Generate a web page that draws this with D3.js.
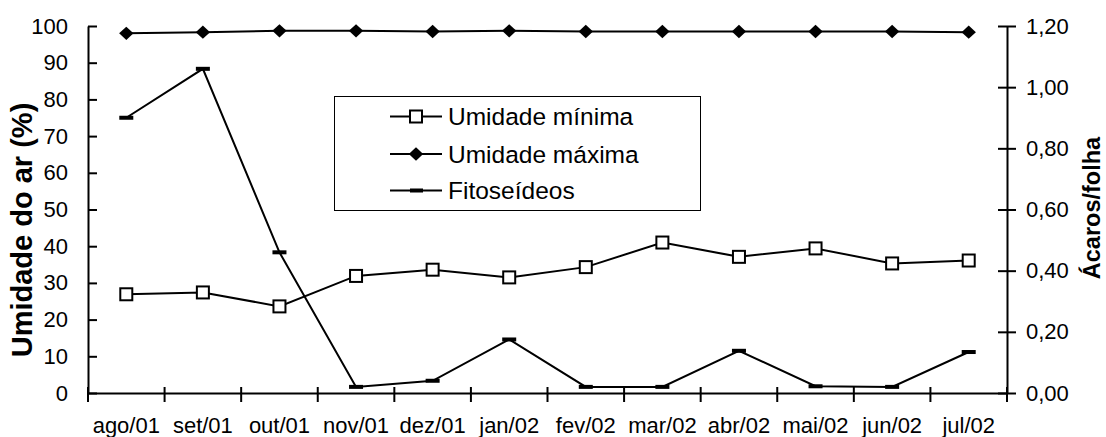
<!DOCTYPE html>
<html>
<head>
<meta charset="utf-8">
<script src="https://cdn.jsdelivr.net/npm/d3@7"></script>
<style>
  body { margin: 0; background: #fff; }
  svg { font-family: "Liberation Sans", Arial, sans-serif; }
</style>
</head>
<body>
<svg id="chart" width="1106" height="437"></svg>
<script>
const months = ["ago/01", "set/01", "out/01", "nov/01", "dez/01", "jan/02", "fev/02", "mar/02", "abr/02", "mai/02", "jun/02", "jul/02"]
const umidadeMinima = [26.9, 27.4, 23.6, 31.9, 33.6, 31.5, 34.3, 41.0, 37.1, 39.4, 35.3, 36.1]
const umidadeMaxima = [98.0, 98.3, 98.7, 98.7, 98.5, 98.7, 98.5, 98.5, 98.5, 98.5, 98.5, 98.3]
const fitoseideos = [0.90, 1.06, 0.46, 0.02, 0.04, 0.175, 0.02, 0.02, 0.138, 0.022, 0.02, 0.134]
const leftTicks = [0, 10, 20, 30, 40, 50, 60, 70, 80, 90, 100]
const rightTicks = [0, 0.2, 0.4, 0.6, 0.8, 1.0, 1.2]

const svg = d3.select("#chart")
const M = { left: 88, right: 1007, top: 26, bottom: 393 }

const x = d3.scaleBand().domain(months).range([M.left, M.right])
const yL = d3.scaleLinear().domain([0, 100]).range([M.bottom, M.top])
const yR = d3.scaleLinear().domain([0, 1.2]).range([M.bottom, M.top])
const cx = d => x(d) + x.bandwidth() / 2

// axes (cross ticks like the original)
const axisLeft = d3.axisLeft(yL).tickValues(leftTicks).tickSizeInner(9).tickSizeOuter(0).tickPadding(11)
const gL = svg.append("g").attr("transform", `translate(${M.left},0)`).call(axisLeft)
gL.selectAll(".tick line").attr("x2", 9)

const axisRight = d3.axisRight(yR).tickValues(rightTicks).tickSizeInner(9).tickSizeOuter(0).tickPadding(10)
  .tickFormat(d => d3.format(".2f")(d).replace(".", ","))
const gR = svg.append("g").attr("transform", `translate(${M.right},0)`).call(axisRight)
gR.selectAll(".tick line").attr("x1", -9)

const axisBottom = d3.axisBottom(x).tickSize(0).tickPadding(24)
const gB = svg.append("g").attr("transform", `translate(0,${M.bottom})`).call(axisBottom)
const bounds = months.map(m => x(m)).concat([M.right])
gB.selectAll(".sep").data(bounds).enter().append("line")
  .attr("x1", d => d).attr("x2", d => d).attr("y1", -6).attr("y2", 9)
  .attr("stroke", "#000").attr("stroke-width", 2)

svg.selectAll(".domain").attr("stroke", "#000").attr("stroke-width", 2)
svg.selectAll(".tick line").attr("stroke", "#000").attr("stroke-width", 2)
svg.selectAll(".tick text").attr("font-size", 22).attr("fill", "#000")
  .attr("font-family", "Liberation Sans, Arial, sans-serif")

// axis titles
svg.append("text").attr("transform", "translate(32,230) rotate(-90)")
  .attr("text-anchor", "middle").attr("font-size", 29).attr("font-weight", "bold")
  .text("Umidade do ar (%)")
svg.append("text").attr("transform", "translate(1100,208) rotate(-90)")
  .attr("text-anchor", "middle").attr("font-size", 23.5).attr("font-weight", "bold")
  .text("Ácaros/folha")

// lines
const lineL = d3.line().x((d, i) => cx(months[i])).y(d => yL(d))
const lineR = d3.line().x((d, i) => cx(months[i])).y(d => yR(d))

svg.append("path").attr("d", lineR(fitoseideos)).attr("fill", "none").attr("stroke", "#000").attr("stroke-width", 2)
svg.append("path").attr("d", lineL(umidadeMaxima)).attr("fill", "none").attr("stroke", "#000").attr("stroke-width", 2)
svg.append("path").attr("d", lineL(umidadeMinima)).attr("fill", "none").attr("stroke", "#000").attr("stroke-width", 2)

// markers
svg.selectAll(".fito").data(fitoseideos).enter().append("rect")
  .attr("x", (d, i) => cx(months[i]) - 7).attr("y", d => yR(d) - 2)
  .attr("width", 14).attr("height", 4).attr("fill", "#000")

const diamond = d3.symbol().type(d3.symbolSquare).size(88)
svg.selectAll(".max").data(umidadeMaxima).enter().append("path")
  .attr("d", diamond)
  .attr("transform", (d, i) => `translate(${cx(months[i])},${yL(d)}) scale(1.08,1) rotate(45)`)
  .attr("fill", "#000")

svg.selectAll(".min").data(umidadeMinima).enter().append("rect")
  .attr("x", (d, i) => cx(months[i]) - 6).attr("y", d => yL(d) - 6)
  .attr("width", 12).attr("height", 12)
  .attr("fill", "#fff").attr("stroke", "#000").attr("stroke-width", 2)

// legend
const legend = svg.append("g")
legend.append("rect").attr("x", 334.5).attr("y", 96.5).attr("width", 366).attr("height", 114)
  .attr("fill", "#fff").attr("stroke", "#000").attr("stroke-width", 1)
const legItems = ["Umidade mínima", "Umidade máxima", "Fitoseídeos"]
const legY = [116.5, 154, 190.5]
legItems.forEach((name, i) => {
  const y = legY[i]
  legend.append("line").attr("x1", 390).attr("x2", 442).attr("y1", y).attr("y2", y)
    .attr("stroke", "#000").attr("stroke-width", 2)
  if (i === 0) {
    legend.append("rect").attr("x", 410).attr("y", y - 6).attr("width", 12).attr("height", 12)
      .attr("fill", "#fff").attr("stroke", "#000").attr("stroke-width", 2)
  } else if (i === 1) {
    legend.append("path").attr("d", diamond)
      .attr("transform", `translate(416,${y}) scale(1.08,1) rotate(45)`).attr("fill", "#000")
  } else {
    legend.append("rect").attr("x", 410).attr("y", y - 2).attr("width", 13).attr("height", 4).attr("fill", "#000")
  }
  legend.append("text").attr("x", 448).attr("y", y + 8.5).attr("font-size", 24.5).text(name)
})
</script>
</body>
</html>
